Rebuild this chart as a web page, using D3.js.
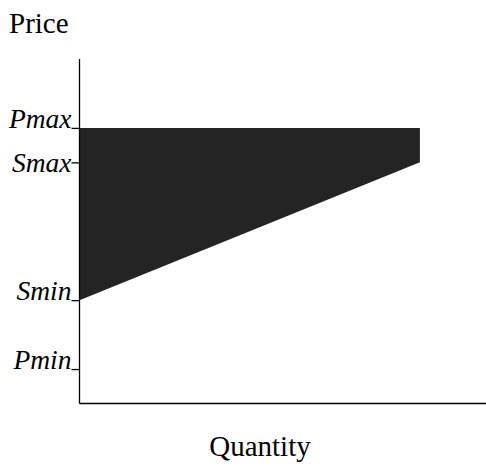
<!DOCTYPE html>
<html>
<head>
<meta charset="utf-8">
<script src="https://cdn.jsdelivr.net/npm/d3@7"></script>
<style>
html,body{margin:0;padding:0;background:#fff;}
svg{display:block;}
</style>
</head>
<body>
<script>
// Data
const tickLabels = ["Pmax", "Smax", "Smin", "Pmin"];
const tickValues = [8, 7, 3, 1];
const quantityRange = [0, 8];
const supplyPrices = [3, 7];   // supply price at min / max quantity
const maxPrice = 8;
const axisTitles = ["Price", "Quantity"];

const W = 486, H = 468;
const svg = d3.select("body").append("svg").attr("width", W).attr("height", H);

const x = d3.scaleLinear().domain([0, 10]).range([79.5, 505]);
const y = d3.scaleLinear().domain([0, 10]).range([403.5, 59]);

// filled region between supply line and max price
const poly = [
  [quantityRange[0], maxPrice],
  [quantityRange[1], maxPrice],
  [quantityRange[1], supplyPrices[1]],
  [quantityRange[0], supplyPrices[0]]
];
svg.append("path")
  .attr("d", d3.line().x(d => x(d[0])).y(d => y(d[1]))(poly) + "Z")
  .attr("fill", "#242424");

// Y axis
const yAxis = d3.axisLeft(y).tickValues(tickValues).tickSize(8).tickFormat("");
const gy = svg.append("g").attr("transform", `translate(${x(0)},0)`).call(yAxis);
gy.select(".domain").attr("d", `M0,${y(10)}V${y(0)}`).attr("stroke", "#000").attr("stroke-width", 1.3);
gy.selectAll(".tick line").attr("stroke", "#000").attr("stroke-width", 1.3);

// X axis
const gx = svg.append("g").attr("transform", `translate(0,${y(0)})`)
  .call(d3.axisBottom(x).tickValues([]).tickSizeOuter(0));
gx.select(".domain").attr("d", `M${x(0)},0H${W}`).attr("stroke", "#000").attr("stroke-width", 1.3);

// tick labels
svg.selectAll("text.tl").data(tickLabels).enter().append("text")
  .attr("class", "tl")
  .attr("x", x(0) - 8)
  .attr("y", (d, i) => y(tickValues[i]))
  .attr("dy", d => d === "Smax" ? 10 : 0)
  .attr("text-anchor", "end")
  .attr("font-family", "'Liberation Serif', 'Times New Roman', serif")
  .attr("font-style", "italic")
  .attr("font-size", 27.5)
  .attr("fill", "#000")
  .text(d => d);

// axis titles
svg.append("text").attr("x", 9).attr("y", 33)
  .attr("font-family", "'Liberation Serif', 'Times New Roman', serif")
  .attr("font-size", 29).text(axisTitles[0]);
svg.append("text").attr("x", 260).attr("y", 456)
  .attr("text-anchor", "middle")
  .attr("font-family", "'Liberation Serif', 'Times New Roman', serif")
  .attr("font-size", 29).text(axisTitles[1]);
</script>
</body>
</html>
